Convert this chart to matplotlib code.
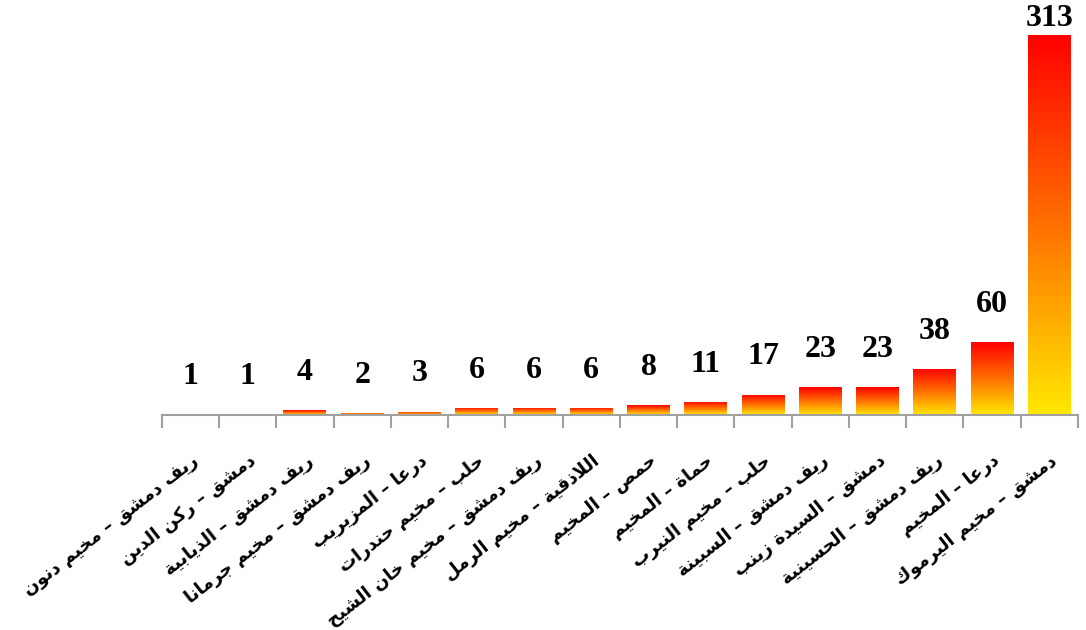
import numpy as np
import matplotlib
matplotlib.use('Agg')
import matplotlib.pyplot as plt
from matplotlib.colors import LinearSegmentedColormap

# data (left to right)
categories = [
    'ريف دمشق – مخيم دنون',
    'دمشق – ركن الدين',
    'ريف دمشق – الذيابية',
    'ريف دمشق – مخيم جرمانا',
    'درعا – المزيريب',
    'حلب – مخيم حندرات',
    'ريف دمشق – مخيم خان الشيح',
    'اللاذقية – مخيم الرمل',
    'حمص – المخيم',
    'حماة – المخيم',
    'حلب – مخيم النيرب',
    'ريف دمشق – السبينة',
    'دمشق – السيدة زينب',
    'ريف دمشق – الحسينية',
    'درعا – المخيم',
    'دمشق – مخيم اليرموك',
]
values = [1, 1, 4, 2, 3, 6, 6, 6, 8, 11, 17, 23, 23, 38, 60, 313]

# --- minimal arabic shaping (matplotlib has no complex text layout) ---
# forms: isolated, final, initial, medial
FORMS = {
    'ا': (0xFE8D, 0xFE8E), 'ب': (0xFE8F, 0xFE90, 0xFE91, 0xFE92),
    'ة': (0xFE93, 0xFE94), 'ت': (0xFE95, 0xFE96, 0xFE97, 0xFE98),
    'ث': (0xFE99, 0xFE9A, 0xFE9B, 0xFE9C),
    'ج': (0xFE9D, 0xFE9E, 0xFE9F, 0xFEA0), 'ح': (0xFEA1, 0xFEA2, 0xFEA3, 0xFEA4),
    'خ': (0xFEA5, 0xFEA6, 0xFEA7, 0xFEA8), 'د': (0xFEA9, 0xFEAA),
    'ذ': (0xFEAB, 0xFEAC), 'ر': (0xFEAD, 0xFEAE), 'ز': (0xFEAF, 0xFEB0),
    'س': (0xFEB1, 0xFEB2, 0xFEB3, 0xFEB4), 'ش': (0xFEB5, 0xFEB6, 0xFEB7, 0xFEB8),
    'ص': (0xFEB9, 0xFEBA, 0xFEBB, 0xFEBC), 'ض': (0xFEBD, 0xFEBE, 0xFEBF, 0xFEC0),
    'ط': (0xFEC1, 0xFEC2, 0xFEC3, 0xFEC4), 'ظ': (0xFEC5, 0xFEC6, 0xFEC7, 0xFEC8),
    'ع': (0xFEC9, 0xFECA, 0xFECB, 0xFECC), 'غ': (0xFECD, 0xFECE, 0xFECF, 0xFED0),
    'ف': (0xFED1, 0xFED2, 0xFED3, 0xFED4),
    'ق': (0xFED5, 0xFED6, 0xFED7, 0xFED8), 'ك': (0xFED9, 0xFEDA, 0xFEDB, 0xFEDC),
    'ل': (0xFEDD, 0xFEDE, 0xFEDF, 0xFEE0), 'م': (0xFEE1, 0xFEE2, 0xFEE3, 0xFEE4),
    'ن': (0xFEE5, 0xFEE6, 0xFEE7, 0xFEE8), 'ه': (0xFEE9, 0xFEEA, 0xFEEB, 0xFEEC),
    'و': (0xFEED, 0xFEEE), 'ي': (0xFEF1, 0xFEF2, 0xFEF3, 0xFEF4),
}
LAM_ALEF = (0xFEFB, 0xFEFC)


def shape(s):
    out = []
    i = 0
    n = len(s)
    while i < n:
        c = s[i]
        if c not in FORMS:
            out.append(c)
            i += 1
            continue
        prev = s[i - 1] if i > 0 else ''
        joins_prev = prev in FORMS and len(FORMS[prev]) == 4
        if c == 'ل' and i + 1 < n and s[i + 1] == 'ا':
            out.append(chr(LAM_ALEF[1] if joins_prev else LAM_ALEF[0]))
            i += 2
            continue
        nxt = s[i + 1] if i + 1 < n else ''
        f = FORMS[c]
        joins_next = len(f) == 4 and nxt in FORMS
        if joins_prev and joins_next:
            out.append(chr(f[3]))
        elif joins_prev:
            out.append(chr(f[1]))
        elif joins_next:
            out.append(chr(f[2]))
        else:
            out.append(chr(f[0]))
        i += 1
    return ''.join(out)[::-1]


fig = plt.figure(figsize=(10.86, 6.3), dpi=100)
ax = fig.add_axes([0.149, 0.341, 0.8436, 0.643])

x = np.arange(len(values))
bars = ax.bar(x, values, width=0.75, color='none', edgecolor='none')

cmap = LinearSegmentedColormap.from_list('g', ['#FFE800', '#FF7000', '#FF0000'])
grad = np.linspace(0, 1, 256).reshape(-1, 1)
for b in bars:
    x0 = b.get_x()
    h = b.get_height()
    im = ax.imshow(grad, cmap=cmap, origin='lower', aspect='auto',
                   extent=(x0, x0 + b.get_width(), 0, h), zorder=2)
    im.set_clip_path(b)

ymax = 333.6
ax.set_xlim(-0.5, len(values) - 0.5)
ax.set_ylim(0, ymax)

for xi, v in zip(x, values):
    ax.text(xi, min(v + 31, 327), str(v), ha='center', va='center',
            fontsize=23, fontweight='bold', family='Liberation Serif')

for s in ['top', 'right', 'left']:
    ax.spines[s].set_visible(False)
ax.spines['bottom'].set_color('#A0A0A0')
ax.spines['bottom'].set_linewidth(1.5)
ax.set_yticks([])

ax.set_xticks(x)
ax.set_xticklabels([shape(c) for c in categories], rotation=38, ha='right',
                   va='top', rotation_mode='anchor', fontsize=13,
                   fontweight='bold', family='DejaVu Sans')
ax.tick_params(axis='x', which='major', length=0, pad=26)
ax.set_xticks(np.arange(len(values) + 1) - 0.5, minor=True)
ax.tick_params(axis='x', which='minor', length=9, width=1.5, color='#A0A0A0')

fig.savefig('out.png', dpi=100)
